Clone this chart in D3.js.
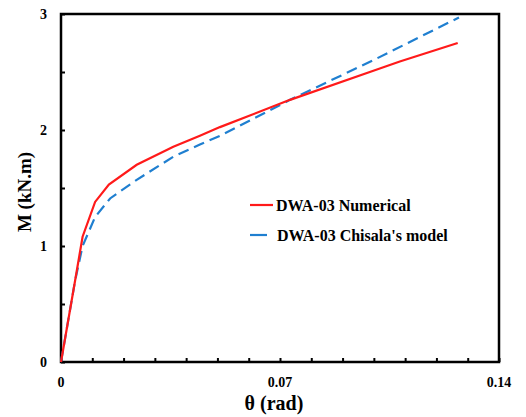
<!DOCTYPE html>
<html><head><meta charset="utf-8">
<script src="https://cdn.jsdelivr.net/npm/d3@7"></script>
<style>body{margin:0;background:#fff}svg{display:block}text{font-family:"Liberation Serif","Times New Roman",serif;font-weight:bold;fill:#000}</style>
</head><body><div id="chart"></div>
<script>
const numTheta = [0, 0.0045, 0.0069, 0.0109, 0.0153, 0.0242, 0.0359, 0.0444, 0.0508, 0.0732, 0.1019, 0.1083, 0.1268];
const numM     = [0, 0.70, 1.08, 1.38, 1.53, 1.70, 1.855, 1.95, 2.025, 2.26, 2.53, 2.59, 2.75];
const chiTheta = [0, 0.0045, 0.0069, 0.0109, 0.0157, 0.0242, 0.0359, 0.0444, 0.0508, 0.0732, 0.0997, 0.1272];
const chiM     = [0, 0.70, 1.00, 1.25, 1.41, 1.57, 1.77, 1.875, 1.95, 2.26, 2.60, 2.97];
const xTickLabels = [0, 0.07, 0.14];
const yTickLabels = [0, 1, 2, 3];
const seriesNames = ["DWA-03 Numerical", "DWA-03 Chisala's model"];

const W = 526, H = 417, m = {l:61, t:14, r:27, b:55};
const svg = d3.select("#chart").append("svg").attr("width", W).attr("height", H);
const x = d3.scaleLinear().domain([0, 0.14]).range([m.l, W - m.r]);
const y = d3.scaleLinear().domain([0, 3]).range([H - m.b, m.t]);

// minor ticks
const xMinor = d3.range(0, 0.1401, 0.01);
const yMinor = d3.range(0, 3.001, 0.5);
svg.append("g").attr("transform", `translate(0,${H - m.b})`)
  .call(d3.axisBottom(x).tickValues(xMinor).tickSize(-4).tickFormat(""))
  .call(g => g.select(".domain").remove())
  .call(g => g.selectAll("line").attr("stroke", "#000").attr("stroke-width", 2));
svg.append("g").attr("transform", `translate(${m.l},0)`)
  .call(d3.axisLeft(y).tickValues(yMinor).tickSize(-4).tickFormat(""))
  .call(g => g.select(".domain").remove())
  .call(g => g.selectAll("line").attr("stroke", "#000").attr("stroke-width", 2));

// tick labels
svg.append("g").selectAll("text").data(xTickLabels).join("text")
  .attr("x", d => x(d)).attr("y", H - m.b + 25).attr("text-anchor", "middle")
  .style("font-size", "14px").text(d => d);
svg.append("g").selectAll("text").data(yTickLabels).join("text")
  .attr("x", m.l - 14).attr("y", d => y(d) + 5).attr("text-anchor", "end")
  .style("font-size", "14px").text(d => d);

// frame
svg.append("rect").attr("x", m.l).attr("y", m.t).attr("width", W - m.l - m.r).attr("height", H - m.t - m.b)
  .attr("fill", "none").attr("stroke", "#000").attr("stroke-width", 2.5);

const line = d3.line().x(d => x(d[0])).y(d => y(d[1]));
const numData = numTheta.map((t, i) => [t, numM[i]]);
const chiData = chiTheta.map((t, i) => [t, chiM[i]]);
svg.append("path").datum(chiData).attr("d", line).attr("fill", "none")
  .attr("stroke", "#1f7fd0").attr("stroke-width", 2.2).attr("stroke-dasharray", "11,6");
svg.append("path").datum(numData).attr("d", line).attr("fill", "none")
  .attr("stroke", "#ff1a1a").attr("stroke-width", 2.2);

// legend
const lg = svg.append("g");
lg.append("line").attr("x1", 250).attr("x2", 273).attr("y1", 205).attr("y2", 205)
  .attr("stroke", "#ff1a1a").attr("stroke-width", 2.2);
lg.append("line").attr("x1", 250).attr("x2", 267).attr("y1", 235).attr("y2", 235)
  .attr("stroke", "#1f7fd0").attr("stroke-width", 2.2);
lg.append("text").attr("x", 276).attr("y", 211).style("font-size", "16px").text(seriesNames[0]);
lg.append("text").attr("x", 277).attr("y", 241).style("font-size", "16px").text(seriesNames[1]);

// axis titles
svg.append("text").attr("x", 274).attr("y", 410).attr("text-anchor", "middle")
  .style("font-size", "20px").text("θ (rad)");
svg.append("text").attr("transform", `translate(31,192) rotate(-90)`).attr("text-anchor", "middle")
  .style("font-size", "19px").text("M (kN.m)");
</script></body></html>
